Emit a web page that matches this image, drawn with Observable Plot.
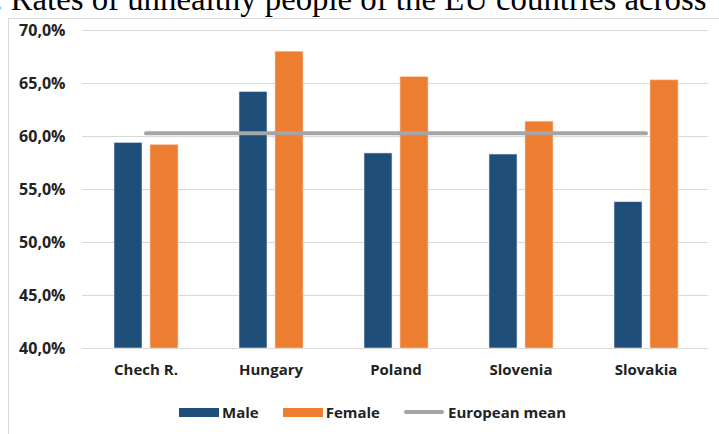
<!DOCTYPE html>
<html>
<head>
<meta charset="utf-8">
<script src="https://cdn.jsdelivr.net/npm/d3@7"></script>
<script src="https://cdn.jsdelivr.net/npm/@observablehq/plot@0.6"></script>
<style>
  html, body { margin: 0; padding: 0; background: #fff; }
  body { width: 719px; height: 434px; position: relative; overflow: hidden; }
  #title {
    position: absolute; left: -116px; top: -17px; white-space: nowrap;
    font-family: "Liberation Serif", "Times New Roman", serif; font-size: 32.8px; line-height: 32.8px; color: #000;
  }
  #frame {
    position: absolute; left: 8px; top: 18px; width: 760px; height: 480px;
    border: 1px solid #d9d9d9; box-sizing: border-box;
  }
  #chart { position: absolute; left: 0; top: 0; }
  #chart g[aria-label="y-axis tick label"] { font-size: 16px; }
  #legend {
    position: absolute; top: 402px; left: 179px; display: flex; align-items: center;
    font-family: "Open Sans", sans-serif; font-weight: 700; font-size: 15px; color: #222;
  }
  .item { display: flex; align-items: center; margin-right: 24px; }
  .swatch { width: 40px; height: 9px; margin-right: 3px; }
  .lineswatch { width: 40px; height: 4px; border-radius: 2px; margin-right: 4px; }
</style>
</head>
<body>
<div id="title">Figure 1. Rates of unhealthy people of the EU countries across</div>
<div id="frame"></div>
<div id="chart"></div>
<div id="legend"></div>
<script>
// Share of unhealthy people (%) by country and sex
const countries = ["Chech R.", "Hungary", "Poland", "Slovenia", "Slovakia"];
const male = [59.4, 64.2, 58.4, 58.3, 53.8];
const female = [59.2, 68.0, 65.6, 61.4, 65.3];
const europeanMean = 60.3;
const yTicks = [40, 45, 50, 55, 60, 65, 70];
const seriesNames = ["Male", "Female", "European mean"];
const colors = ["#1f4e79", "#ed7d31", "#a5a5a5"];

const rows = countries.map((c, i) => ({country: c, male: male[i], female: female[i], mean: europeanMean}));
const yMin = yTicks[0];
const fmt = d => d.toFixed(1).replace(".", ",") + "%";

const chart = Plot.plot({
  width: 719,
  height: 390,
  marginTop: 30,
  marginLeft: 82,
  marginRight: 11,
  marginBottom: 42,
  style: {fontFamily: "Open Sans, sans-serif", fontWeight: 700, fontSize: "15px", color: "#222", background: "transparent"},
  x: {domain: countries, padding: 0, label: null, tickSize: 0, tickPadding: 16},
  y: {domain: [yTicks[0], yTicks[yTicks.length - 1]], ticks: yTicks, tickFormat: fmt, label: null, tickSize: 0, tickPadding: 17},
  marks: [
    Plot.gridY(yTicks, {stroke: "#d9d9d9", strokeOpacity: 1, strokeWidth: 1}),
    Plot.barY(rows, {x: "country", y1: yMin, y2: "male", fill: colors[0], stroke: "#dfe6ee", strokeWidth: 0.6, insetLeft: 31, insetRight: 66}),
    Plot.barY(rows, {x: "country", y1: yMin, y2: "female", fill: colors[1], stroke: "#f7d2b8", strokeWidth: 0.6, insetLeft: 67, insetRight: 30}),
    Plot.lineY(rows, {x: "country", y: "mean", stroke: colors[2], strokeWidth: 4, strokeLinecap: "round"})
  ]
});
document.getElementById("chart").appendChild(chart);

// Legend
const legend = document.getElementById("legend");
seriesNames.forEach((name, i) => {
  const item = document.createElement("div");
  item.className = "item";
  const sw = document.createElement("span");
  sw.className = i < 2 ? "swatch" : "lineswatch";
  sw.style.background = colors[i];
  const label = document.createElement("span");
  label.textContent = name;
  item.appendChild(sw);
  item.appendChild(label);
  legend.appendChild(item);
});
</script>
</body>
</html>
